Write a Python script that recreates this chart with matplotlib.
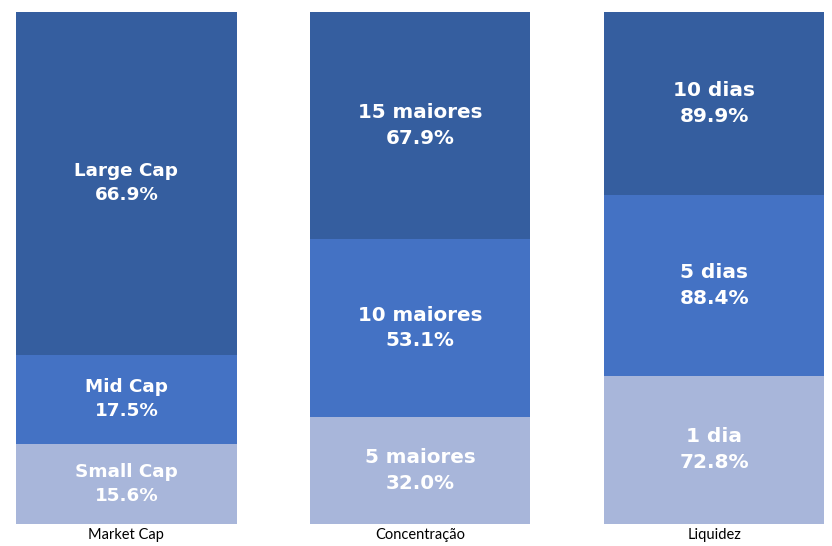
import numpy as np
import matplotlib.pyplot as plt

# dados: cada barra empilhada normalizada pela soma dos seus valores
categorias = ["Market Cap", "Concentração", "Liquidez"]
rotulos = [
    ["Small Cap", "Mid Cap", "Large Cap"],
    ["5 maiores", "10 maiores", "15 maiores"],
    ["1 dia", "5 dias", "10 dias"],
]
valores = [
    [15.6, 17.5, 66.9],
    [32.0, 53.1, 67.9],
    [72.8, 88.4, 89.9],
]
cores = ["#A8B6DA", "#4472C4", "#355E9F"]
tam_fonte = [13.2, 14.3, 14.5]

fig = plt.figure(figsize=(8.32, 5.46), dpi=100)
# eixo posicionado para bater com os pixels da referência
ax = fig.add_axes([0, 22 / 546, 1, 512 / 546])

x = np.arange(len(categorias))
for i, (labs, vals) in enumerate(zip(rotulos, valores)):
    vals = np.asarray(vals, dtype=float)
    alturas = vals / vals.sum() * 100
    base = 0.0
    for lab, v, h, c in zip(labs, vals, alturas, cores):
        ax.bar(x[i], h, bottom=base, width=0.75, color=c, linewidth=0)
        ax.text(
            x[i], base + h / 2, f"{lab}\n{v:.1f}%",
            ha="center", va="center", color="white",
            fontsize=tam_fonte[i], fontweight="bold", family="DejaVu Sans",
            linespacing=1.45,
        )
        base += h

ax.set_xlim(-126.5 / 294, 2 + (832 - 714) / 294)
ax.set_ylim(0, 100)
ax.set_xticks(x)
ax.set_xticklabels(categorias, fontsize=10.5, family="Lato")
ax.tick_params(axis="x", length=0, pad=3)
ax.set_yticks([])
for s in ax.spines.values():
    s.set_visible(False)

fig.savefig("out.png", dpi=100)
